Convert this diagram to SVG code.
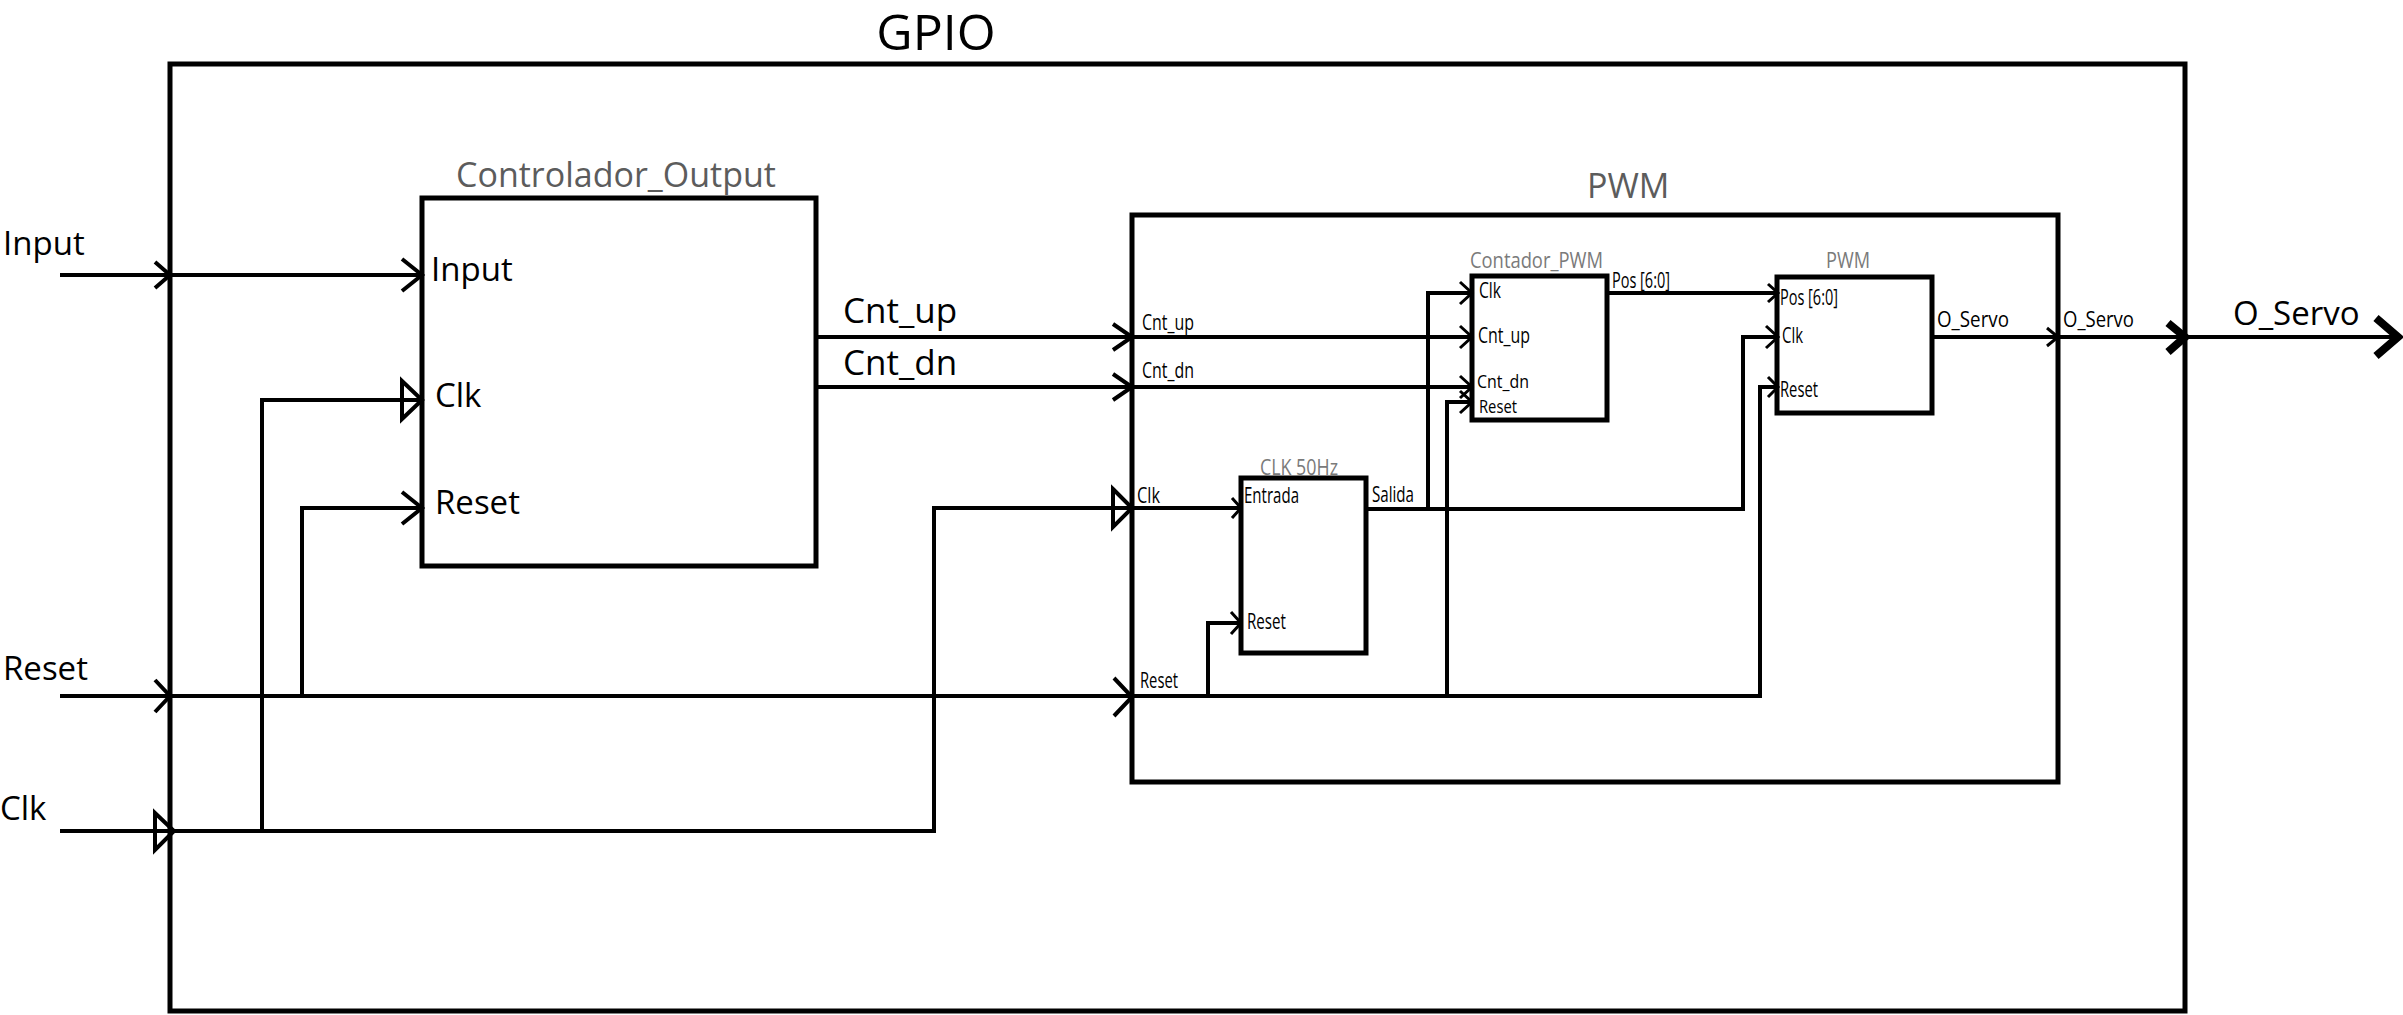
<svg xmlns="http://www.w3.org/2000/svg" width="2403" height="1015" viewBox="0 0 2403 1015">
<style>
.blk{fill:none;stroke:#000;stroke-width:5}
.w{fill:none;stroke:#000;stroke-width:4;stroke-linejoin:miter}
.ah{fill:none;stroke:#000;stroke-width:4;stroke-linejoin:miter}
.ahs{fill:none;stroke:#000;stroke-width:3;stroke-linejoin:miter}
.ahb{fill:none;stroke:#000;stroke-width:8;stroke-linejoin:miter}
text{font-family:"Open Sans","Noto Sans",sans-serif;fill:#000}
.big{font-size:33px}
.sm{font-size:21px}
.xs{font-size:19px}
.ttl{fill:#5c5c5c;font-size:34px}
.stt{fill:#7a7a7a;font-size:22px}
</style>
<rect x="0" y="0" width="2403" height="1015" fill="#fff"/>

<g id="gpio">
  <rect class="blk" x="170" y="64" width="2015" height="947"/>
  <text x="936" y="50" font-size="50" text-anchor="middle">GPIO</text>
  <text class="big" x="3" y="255">Input</text>
  <text class="big" x="3" y="680">Reset</text>
  <text class="big" x="0" y="820">Clk</text>
  <text class="big" x="2233" y="325">O_Servo</text>
</g>

<g id="controlador_output">
  <rect class="blk" x="422" y="198" width="394" height="368"/>
  <text class="ttl" x="456" y="187" textLength="320" lengthAdjust="spacingAndGlyphs">Controlador_Output</text>
  <text class="big" x="431" y="281">Input</text>
  <text class="big" x="435" y="407">Clk</text>
  <text class="big" x="435" y="514">Reset</text>
  <text x="843" y="323" font-size="35">Cnt_up</text>
  <text x="843" y="375" font-size="35">Cnt_dn</text>
</g>

<g id="pwm">
  <rect class="blk" x="1132" y="215" width="926" height="567"/>
  <text class="ttl" x="1587" y="198">PWM</text>
  <text class="sm" x="1142" y="330" textLength="52" lengthAdjust="spacingAndGlyphs">Cnt_up</text>
  <text class="sm" x="1142" y="378" textLength="52" lengthAdjust="spacingAndGlyphs">Cnt_dn</text>
  <text class="sm" x="1137" y="503" textLength="23" lengthAdjust="spacingAndGlyphs">Clk</text>
  <text class="sm" x="1140" y="688" textLength="38" lengthAdjust="spacingAndGlyphs">Reset</text>
  <text class="sm" x="2063" y="327" textLength="71" lengthAdjust="spacingAndGlyphs">O_Servo</text>
</g>

<g id="clk_50hz">
  <rect class="blk" x="1241" y="478" width="125" height="175"/>
  <text class="stt" x="1260" y="475" textLength="78" lengthAdjust="spacingAndGlyphs">CLK 50Hz</text>
  <text class="sm" x="1244" y="503" textLength="55" lengthAdjust="spacingAndGlyphs">Entrada</text>
  <text class="sm" x="1247" y="629" textLength="39" lengthAdjust="spacingAndGlyphs">Reset</text>
  <text class="sm" x="1372" y="502" textLength="42" lengthAdjust="spacingAndGlyphs">Salida</text>
</g>

<g id="contador_pwm">
  <rect class="blk" x="1472" y="276" width="135" height="144"/>
  <text class="stt" x="1470" y="268" textLength="133" lengthAdjust="spacingAndGlyphs">Contador_PWM</text>
  <text class="sm" x="1479" y="298" textLength="22" lengthAdjust="spacingAndGlyphs">Clk</text>
  <text class="sm" x="1478" y="343" textLength="52" lengthAdjust="spacingAndGlyphs">Cnt_up</text>
  <text class="xs" x="1477" y="388" textLength="52" lengthAdjust="spacingAndGlyphs">Cnt_dn</text>
  <text class="xs" x="1479" y="413" textLength="38" lengthAdjust="spacingAndGlyphs">Reset</text>
  <text class="sm" x="1612" y="288" textLength="58" lengthAdjust="spacingAndGlyphs">Pos [6:0]</text>
</g>

<g id="pwm_inner">
  <rect class="blk" x="1777" y="277" width="155" height="136"/>
  <text class="stt" x="1826" y="268" textLength="44" lengthAdjust="spacingAndGlyphs">PWM</text>
  <text class="sm" x="1780" y="305" textLength="58" lengthAdjust="spacingAndGlyphs">Pos [6:0]</text>
  <text class="sm" x="1782" y="343" textLength="21" lengthAdjust="spacingAndGlyphs">Clk</text>
  <text class="sm" x="1780" y="397" textLength="38" lengthAdjust="spacingAndGlyphs">Reset</text>
  <text class="sm" x="1937" y="327" textLength="72" lengthAdjust="spacingAndGlyphs">O_Servo</text>
</g>

<g id="connectors">
  <path class="w" d="M60,275 H422"/>
  <polyline class="ah" points="155,262 170,275 155,288"/>
  <polyline class="ah" points="402,259 422,275 402,291"/>
  <path class="w" d="M60,831 H934 V508 H1241"/>
  <polygon class="ah" points="155,813 174,831 155,850"/>
  <polygon class="ah" points="1113,489 1132,508 1113,527"/>
  <polyline class="ahs" points="1232,498 1241,508 1232,518"/>
  <path class="w" d="M262,831 V400 H422"/>
  <polygon class="ah" points="402,381 422,400 402,419"/>
  <path class="w" d="M60,696 H1760 V387 H1777"/>
  <polyline class="ah" points="155,680 170,696 155,712"/>
  <polyline class="ah" points="1114,678 1132,697 1114,716"/>
  <polyline class="ahs" points="1768,377 1778,387 1768,397"/>
  <path class="w" d="M302,696 V508 H422"/>
  <polyline class="ah" points="402,492 422,508 402,524"/>
  <path class="w" d="M1208,696 V623 H1241"/>
  <polyline class="ahs" points="1231,612 1241,623 1231,634"/>
  <path class="w" d="M1447,696 V402 H1472"/>
  <polyline class="ahs" points="1460,391 1472,402 1460,413"/>
  <path class="w" d="M816,337 H1472"/>
  <polyline class="ah" points="1113,324 1132,337 1113,350"/>
  <polyline class="ahs" points="1460,326 1472,337 1460,348"/>
  <path class="w" d="M816,387 H1472"/>
  <polyline class="ah" points="1113,374 1132,387 1113,400"/>
  <polyline class="ahs" points="1460,376 1472,387 1460,398"/>
  <path class="w" d="M1366,509 H1743 V337 H1777"/>
  <polyline class="ahs" points="1766,326 1778,337 1766,348"/>
  <path class="w" d="M1428,509 V293 H1472"/>
  <polyline class="ahs" points="1460,282 1472,293 1460,304"/>
  <path class="w" d="M1607,293 H1777"/>
  <polyline class="ahs" points="1768,284 1778,293 1768,302"/>
  <path class="w" d="M1932,337 H2398"/>
  <polyline class="ahs" points="2047,328 2058,337 2047,346"/>
  <polyline class="ahb" points="2168,323 2185,337 2168,352"/>
  <polyline class="ahb" points="2376,318 2398,337 2376,356"/>
</g>
</svg>
